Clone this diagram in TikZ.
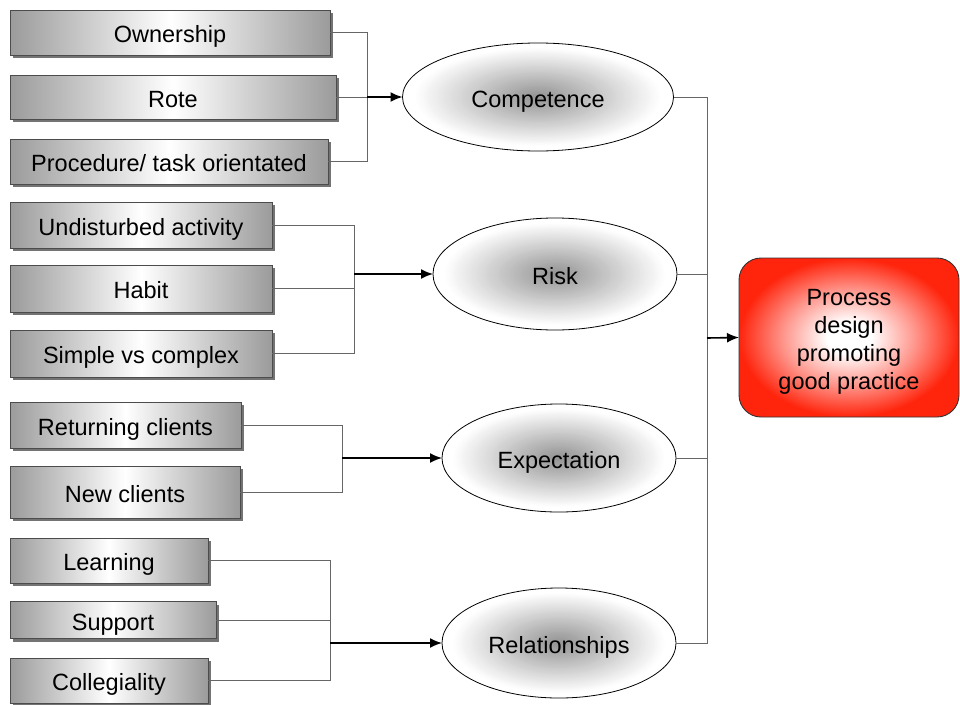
\documentclass[tikz,border=0pt]{standalone}
\usepackage{fontspec}
\setmainfont{Liberation Sans}
\usetikzlibrary{shapes.geometric,shadows,arrows.meta,backgrounds}

\definecolor{goalred}{RGB}{255,36,12}
\definecolor{goalpink}{RGB}{255,150,140}
\definecolor{edgegrey}{RGB}{155,155,155}
\definecolor{ovalcore}{RGB}{148,148,148}

% white glow in the middle of the red outcome box
\pgfdeclareradialshading{glowshade}{\pgfpoint{0bp}{0bp}}{%
  color(0bp)=(white); color(5bp)=(white); color(15bp)=(goalpink); color(25bp)=(goalred); color(50bp)=(goalred)}

% grey haze in the middle of an ellipse, fading to white towards its rim:
% #1 node name, #2 x radius, #3 y radius
\newcommand\ovalglow[3]{%
  \fill[white] (#1.center) ellipse [x radius=#2, y radius=#3];
  \foreach \k in {1,...,45}{%
    \pgfmathsetmacro\f{0.9*(1-(\k-1)/45)}%
    \pgfmathtruncatemacro\p{100*\k/45}%
    \fill[ovalcore!\p!white] (#1.center) ellipse [x radius={#2*\f}, y radius={#3*\f}];
  }}

\tikzset{
  txt/.style={font=\fontsize{23.5}{28}\selectfont},
  oneline/.style={txt, text height=20pt, text depth=0pt},
  factor/.style={oneline, rectangle, draw=black!70, line width=0.8pt,
    left color=edgegrey, right color=edgegrey, middle color=white,
    inner sep=0pt, outer sep=0pt,
    drop shadow={shadow xshift=3pt, shadow yshift=-3pt, fill=black!55, opacity=1}},
  theme/.style={oneline, ellipse, draw=black, line width=0.8pt,
    inner sep=0pt, outer sep=0pt},
  goal/.style={txt, rectangle, rounded corners=22pt, draw=black!80, line width=0.9pt,
    shading=glowshade, inner sep=0pt, outer sep=0pt, align=center},
  feed/.style={draw=black!60, line width=1pt},
  flow/.style={draw=black, line width=1.6pt, -{Latex[length=12pt,width=10pt]}}
}

\begin{document}
\begin{tikzpicture}[x=1pt, y=-1pt]
\useasboundingbox (0,0) rectangle (960,704);

% ---- factor boxes ----
\node[factor, minimum width=320pt, minimum height=45pt] (own)   at (170,32.5)  {Ownership};
\node[factor, minimum width=326pt, minimum height=44pt] (rote)  at (173,97)    {Rote};
\node[factor, minimum width=318pt, minimum height=45pt] (proc)  at (169,161.5) {Procedure/ task orientated};

\node[factor, minimum width=262pt, minimum height=46pt] (undist) at (141,225)   {Undisturbed activity};
\node[factor, minimum width=262pt, minimum height=47pt] (habit)  at (141,288.5) {Habit};
\node[factor, minimum width=262pt, minimum height=47pt] (simple) at (141,353.5) {Simple vs complex};

\node[factor, minimum width=231pt, minimum height=46pt] (ret)  at (125.5,425) {Returning clients};
\node[factor, minimum width=230pt, minimum height=52pt] (newc) at (125,492)   {New clients};

\node[factor, minimum width=198pt, minimum height=45pt] (learn) at (109,560.5) {Learning};
\node[factor, minimum width=206pt, minimum height=37pt] (supp)  at (113,620)   {Support};
\node[factor, minimum width=198pt, minimum height=45pt] (coll)  at (109,680.5) {Collegiality};

% ---- themes ----
\node[theme, minimum width=271pt, minimum height=108pt] (comp)   at (538,97)  {Competence};
\node[theme, minimum width=244pt, minimum height=112pt] (risk)   at (555,274) {Risk};
\node[theme, minimum width=234pt, minimum height=108pt] (expect) at (559,458) {Expectation};
\node[theme, minimum width=234pt, minimum height=110pt] (rel)    at (559,643) {Relationships};

\begin{scope}[on background layer]
  \ovalglow{comp}{135.5}{54}
  \ovalglow{risk}{122}{56}
  \ovalglow{expect}{117}{54}
  \ovalglow{rel}{117}{55}
\end{scope}

% ---- outcome ----
\node[goal, minimum width=220pt, minimum height=159pt] (out) at (849,337.5) {};
\node[txt, align=center, inner sep=0pt] (outtxt) at ([yshift=-4pt]out.center)
  {Process\\design\\promoting\\good practice};

% ---- junction points ----
\coordinate (j1) at (367,97);
\coordinate (j2) at (354,274);
\coordinate (j3) at (342,458);
\coordinate (j4) at (330,643);
\coordinate (jr) at (707,338);

% ---- connectors ----
\path[feed] (own.east) -| (j1);
\path[feed] (rote.east) -- (j1);
\path[feed] (proc.east) -| (j1);
\path[flow] (j1) -- (comp.west);

\path[feed] (undist.east) -| (j2);
\path[feed] (habit.east) -| (j2);
\path[feed] (simple.east) -| (j2);
\path[flow] (j2) -- (risk.west);

\path[feed] (ret.east) -| (j3);
\path[feed] (newc.east) -| (j3);
\path[flow] (j3) -- (expect.west);

\path[feed] (learn.east) -| (j4);
\path[feed] (supp.east) -| (j4);
\path[feed] (coll.east) -| (j4);
\path[flow] (j4) -- (rel.west);

\path[feed] (comp.east) -| (jr);
\path[feed] (risk.east) -| (jr);
\path[feed] (expect.east) -| (jr);
\path[feed] (rel.east) -| (jr);
\path[flow] (jr) -- (out.west);
\end{tikzpicture}
\end{document}
